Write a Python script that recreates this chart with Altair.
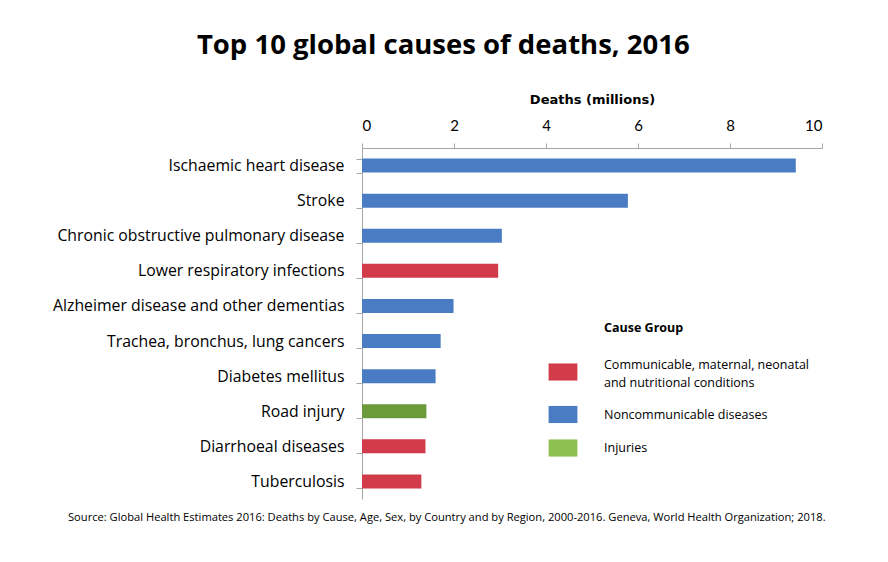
import altair as alt
import pandas as pd

causes = [
    "Ischaemic heart disease",
    "Stroke",
    "Chronic obstructive pulmonary disease",
    "Lower respiratory infections",
    "Alzheimer disease and other dementias",
    "Trachea, bronchus, lung cancers",
    "Diabetes mellitus",
    "Road injury",
    "Diarrhoeal diseases",
    "Tuberculosis",
]
deaths = [9.43, 5.78, 3.04, 2.96, 1.99, 1.71, 1.60, 1.40, 1.38, 1.29]
COMM = "Communicable, maternal, neonatal and nutritional conditions"
NONC = "Noncommunicable diseases"
INJ = "Injuries"
groups = [NONC, NONC, NONC, COMM, NONC, NONC, NONC, INJ, COMM, COMM]
group_order = [COMM, NONC, INJ]
bar_colors = ["#D13B4A", "#4A7CC4", "#6B9A3B"]
legend_colors = ["#D13B4A", "#4A7CC4", "#8CC152"]
x_ticks = [0, 2, 4, 6, 8, 10]

title_text = "Top 10 global causes of deaths, 2016"
source_text = ("Source:  Global Health Estimates  2016: Deaths by Cause, Age,  Sex, by Country and by Region,  "
               "2000-2016. Geneva, World Health Organization;  2018.")

df = pd.DataFrame({"cause": causes, "deaths": deaths, "group": groups})
leg_df = pd.DataFrame({"Cause Group": group_order})

bars = alt.Chart(df).mark_bar().encode(
    x=alt.X("deaths:Q",
            scale=alt.Scale(domain=[0, 10], nice=False),
            axis=alt.Axis(orient="top", title="Deaths (millions)", values=x_ticks,
                          titleFont="DejaVu Sans", titleFontSize=13, titleFontWeight="bold",
                          titleColor="#000000", titlePadding=12,
                          labelFont="Lato", labelFontSize=15, labelColor="#000000",
                          labelPadding=10, tickSize=5, tickColor="#A6A6A6",
                          domainColor="#A6A6A6", grid=False)),
    y=alt.Y("cause:N", sort=causes,
            scale=alt.Scale(paddingInner=0.6, paddingOuter=0.3),
            axis=alt.Axis(title=None, tickBand="extent", labelFont="Open Sans",
                          labelFontSize=15.8, labelColor="#000000", labelPadding=12,
                          tickSize=6, tickColor="#A6A6A6", domainColor="#A6A6A6",
                          labelLimit=0)),
    color=alt.Color("group:N", scale=alt.Scale(domain=group_order, range=bar_colors),
                    legend=None),
)

legend_layer = alt.Chart(leg_df).mark_square(opacity=0).encode(
    color=alt.Color("Cause Group:N",
                    scale=alt.Scale(domain=group_order, range=legend_colors),
                    legend=alt.Legend(
                        orient="none", legendX=192, legendY=215, title=None,
                        symbolType="M-1.6,-0.95H1.6V0.95H-1.6Z", symbolSize=324,
                        symbolOpacity=1, symbolStrokeWidth=0,
                        labelFont="Open Sans", labelFontSize=12.5, labelColor="#000000",
                        labelOffset=32, labelLimit=0, rowPadding=15.5,
                        labelBaseline={"expr": "datum.value == '" + COMM + "' ? 'bottom' : 'middle'"},
                        labelExpr=("datum.label == '" + COMM + "' ? "
                                   "['Communicable, maternal, neonatal', 'and nutritional conditions'] : datum.label"),
                    )),
)

leg_title = alt.Chart(pd.DataFrame({"t": ["Cause Group"]})).mark_text(
    align="left", baseline="middle", font="Open Sans", fontSize=12.5, fontWeight="bold", color="#000000"
).encode(text="t:N", x=alt.value(242), y=alt.value(180))

source = alt.Chart(pd.DataFrame({"t": [source_text]})).mark_text(
    align="left", baseline="middle", font="Open Sans", fontSize=11.15, color="#000000"
).encode(text="t:N", x=alt.value(-294), y=alt.value(370))

chart = alt.layer(bars, legend_layer, leg_title, source).resolve_scale(
    color="independent"
).properties(
    width=460, height=351,
    background="#FFFFFF",
    padding={"left": 44, "top": 23, "right": 20, "bottom": 10},
    title=alt.TitleParams(title_text, font="Open Sans", fontSize=27.5, fontWeight="bold",
                          color="#000000", anchor="middle", frame="bounds", offset=34, dx=-3),
).configure(style={"guide-label": {"lineHeight": 18}}).configure_view(stroke=None)

chart.save("out.html", embed_options={"renderer": "svg", "actions": False})
